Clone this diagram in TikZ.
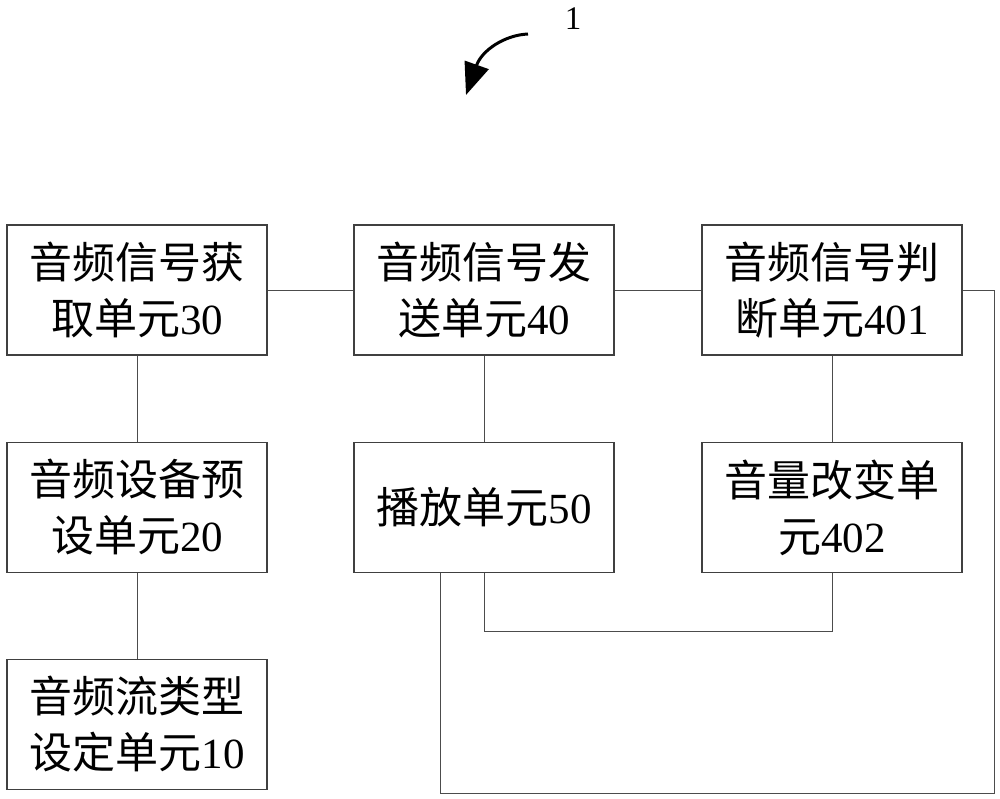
\documentclass[tikz,border=0pt]{standalone}
\usepackage{fontspec}
\setmainfont{Liberation Serif}
\newfontfamily\cjk{Noto Sans CJK SC}
\usetikzlibrary{arrows.meta}
\begin{document}
\begin{tikzpicture}[x=1pt,y=-1pt,
  unit/.style={draw=black!75, line width=1.3pt, minimum width=260pt, minimum height=130pt,
    align=center, inner sep=0pt, font=\fontsize{43}{56}\selectfont},
  conn/.style={draw=black!70, line width=0.9pt}]
\useasboundingbox (0,0) rectangle (1000,799);
\node[unit] (u30) at (137,290) {{\cjk 音频信号获}\\{\cjk 取单元}30};
\node[unit] (u40) at (484,290) {{\cjk 音频信号发}\\{\cjk 送单元}40};
\node[unit] (u401) at (832,290) {{\cjk 音频信号判}\\{\cjk 断单元}401};
\node[unit] (u20) at (137,507.5) {{\cjk 音频设备预}\\{\cjk 设单元}20};
\node[unit] (u50) at (484,507.5) {{\cjk 播放单元}50};
\node[unit] (u402) at (832,507.5) {{\cjk 音量改变单}\\{\cjk 元}402};
\node[unit] (u10) at (137,724.5) {{\cjk 音频流类型}\\{\cjk 设定单元}10};
\coordinate (low) at (0,631);
\coordinate (loop) at (994,793);
\coordinate (tail) at (528,34);
\coordinate (tip) at (466,95);
\node[font=\fontsize{33}{33}\selectfont] (one) at (573,19) {1};
\draw[conn] (u30) -- (u40);
\draw[conn] (u40) -- (u401);
\draw[conn] (u30) -- (u20);
\draw[conn] (u20) -- (u10);
\draw[conn] (u40) -- (u50);
\draw[conn] (u401) -- (u402);
\draw[conn] (u50.south) -- (u50.south |- low) -| (u402.south);
\draw[conn] ([xshift=-44pt]u50.south) |- (loop) |- (u401.east);
\draw[line width=3pt, -{Triangle[length=32pt,width=25pt]}] (tail) .. controls (505,35) and (482,50) .. (tip);
\end{tikzpicture}
\end{document}
